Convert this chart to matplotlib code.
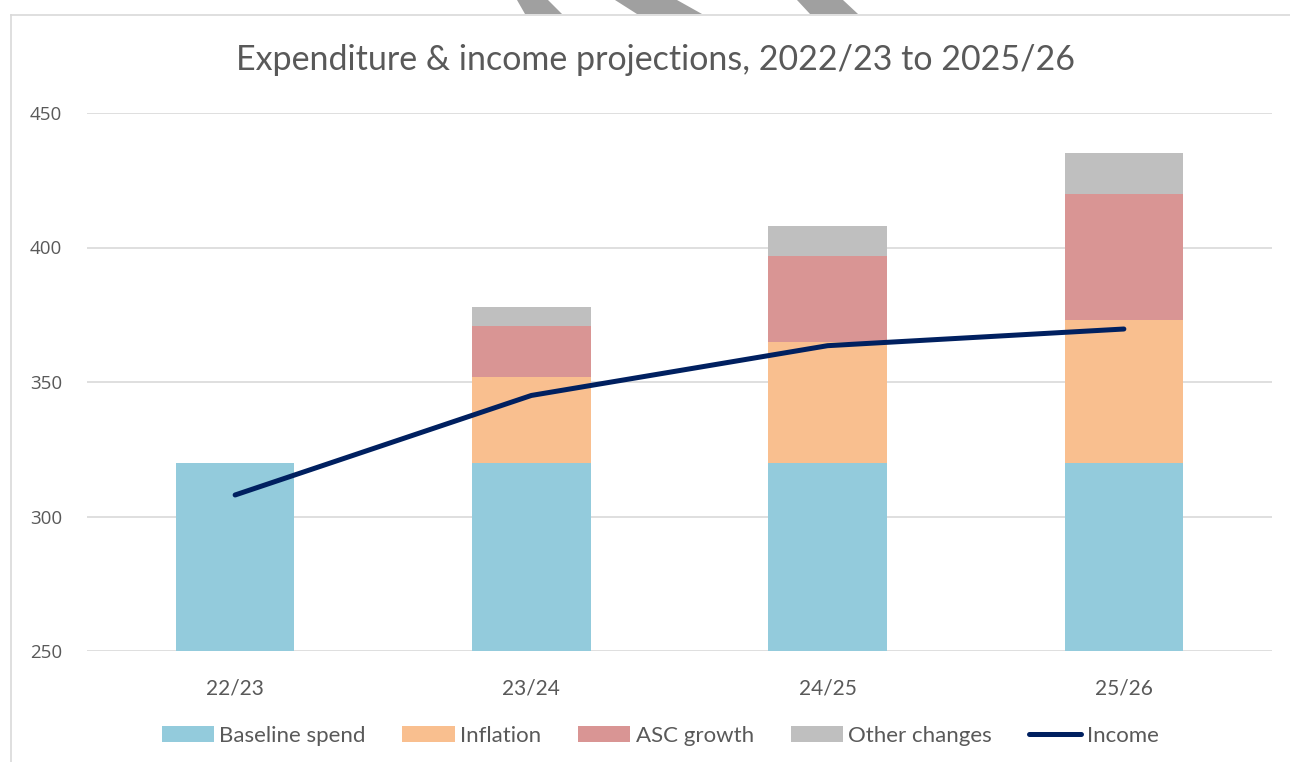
import numpy as np
import matplotlib
matplotlib.use('Agg')
import matplotlib.pyplot as plt
from matplotlib.lines import Line2D
from matplotlib.patches import Polygon

# === Data ===
years = ["22/23", "23/24", "24/25", "25/26"]
baseline = [320, 320, 320, 320]
inflation = [0, 32, 45, 53]
asc_growth = [0, 19, 32, 47]
other = [0, 7, 11, 15]
income = [308, 345, 363.5, 369.7]

series_names = ["Baseline spend", "Inflation", "ASC growth", "Other changes"]
colors = ["#93CBDC", "#F9BF8F", "#D99594", "#BFBFBF"]
line_color = "#002060"
txt = "#595959"

W, H = 1290, 762
fig = plt.figure(figsize=(W / 100, H / 100), dpi=100)

def fx(px):
    return px / W

def fy(py):
    return 1 - py / H

# chart frame (partly cut off)
fig.add_artist(Line2D([fx(10.5), 1], [fy(14.5), fy(14.5)], color="#d9d9d9", lw=1.2))
fig.add_artist(Line2D([fx(10.5), fx(10.5)], [fy(14.5), 0], color="#d9d9d9", lw=1.2))

# grey stripes at top edge
for pts in [[(517, 0), (548, 0), (562, 14), (525, 14)],
            [(615, 0), (677, 0), (702, 14), (637, 14)],
            [(797, 0), (843, 0), (858, 14), (810, 14)]]:
    fig.add_artist(Polygon([(fx(x), fy(y)) for x, y in pts], closed=True,
                           facecolor="#a0a0a0", edgecolor="none"))

ax = fig.add_axes([fx(87), fy(651), fx(1272) - fx(87), fy(113) - fy(651)])

x = np.arange(len(years))
bottom = np.zeros(len(years))
bars = []
for vals, name, c in zip([baseline, inflation, asc_growth, other], series_names, colors):
    b = ax.bar(x, vals, width=0.4, bottom=bottom, color=c, label=name, zorder=2)
    bars.append(b)
    bottom += np.array(vals)

ln, = ax.plot(x, income, color=line_color, lw=3.6, solid_capstyle="round",
              solid_joinstyle="round", label="Income", zorder=3)

ax.set_xlim(-0.5, 3.5)
ax.set_ylim(250, 450)
ax.set_yticks([250, 300, 350, 400, 450])
ax.set_xticks(x)
ax.set_xticklabels(years)
ax.grid(axis="y", color="#d9d9d9", lw=1.2, zorder=0)
for s in ax.spines.values():
    s.set_visible(False)
ax.tick_params(length=0, colors=txt, labelsize=13.5)
ax.tick_params(axis="y", pad=18)
ax.tick_params(axis="x", pad=20)
for lab in ax.get_yticklabels():
    lab.set_family(["Open Sans", "DejaVu Sans"])
for lab in ax.get_xticklabels():
    lab.set_family(["Lato", "DejaVu Sans"])
    lab.set_fontsize(15)

fig.text(fx(656), fy(60), "Expenditure & income projections, 2022/23 to 2025/26",
         ha="center", va="center", fontsize=24.5, color=txt,
         family=["Lato", "DejaVu Sans"])

leg = fig.legend(bars + [ln], series_names + ["Income"], loc="center",
                 bbox_to_anchor=(fx(660), fy(736)), ncol=5,
                 frameon=False, handlelength=2.35, handleheight=0.7,
                 columnspacing=1.65, handletextpad=0.25,
                 prop={"family": ["Lato", "DejaVu Sans"], "size": 16})
for t in leg.get_texts():
    t.set_color(txt)

plt.savefig("out.png", dpi=100)
plt.close()
